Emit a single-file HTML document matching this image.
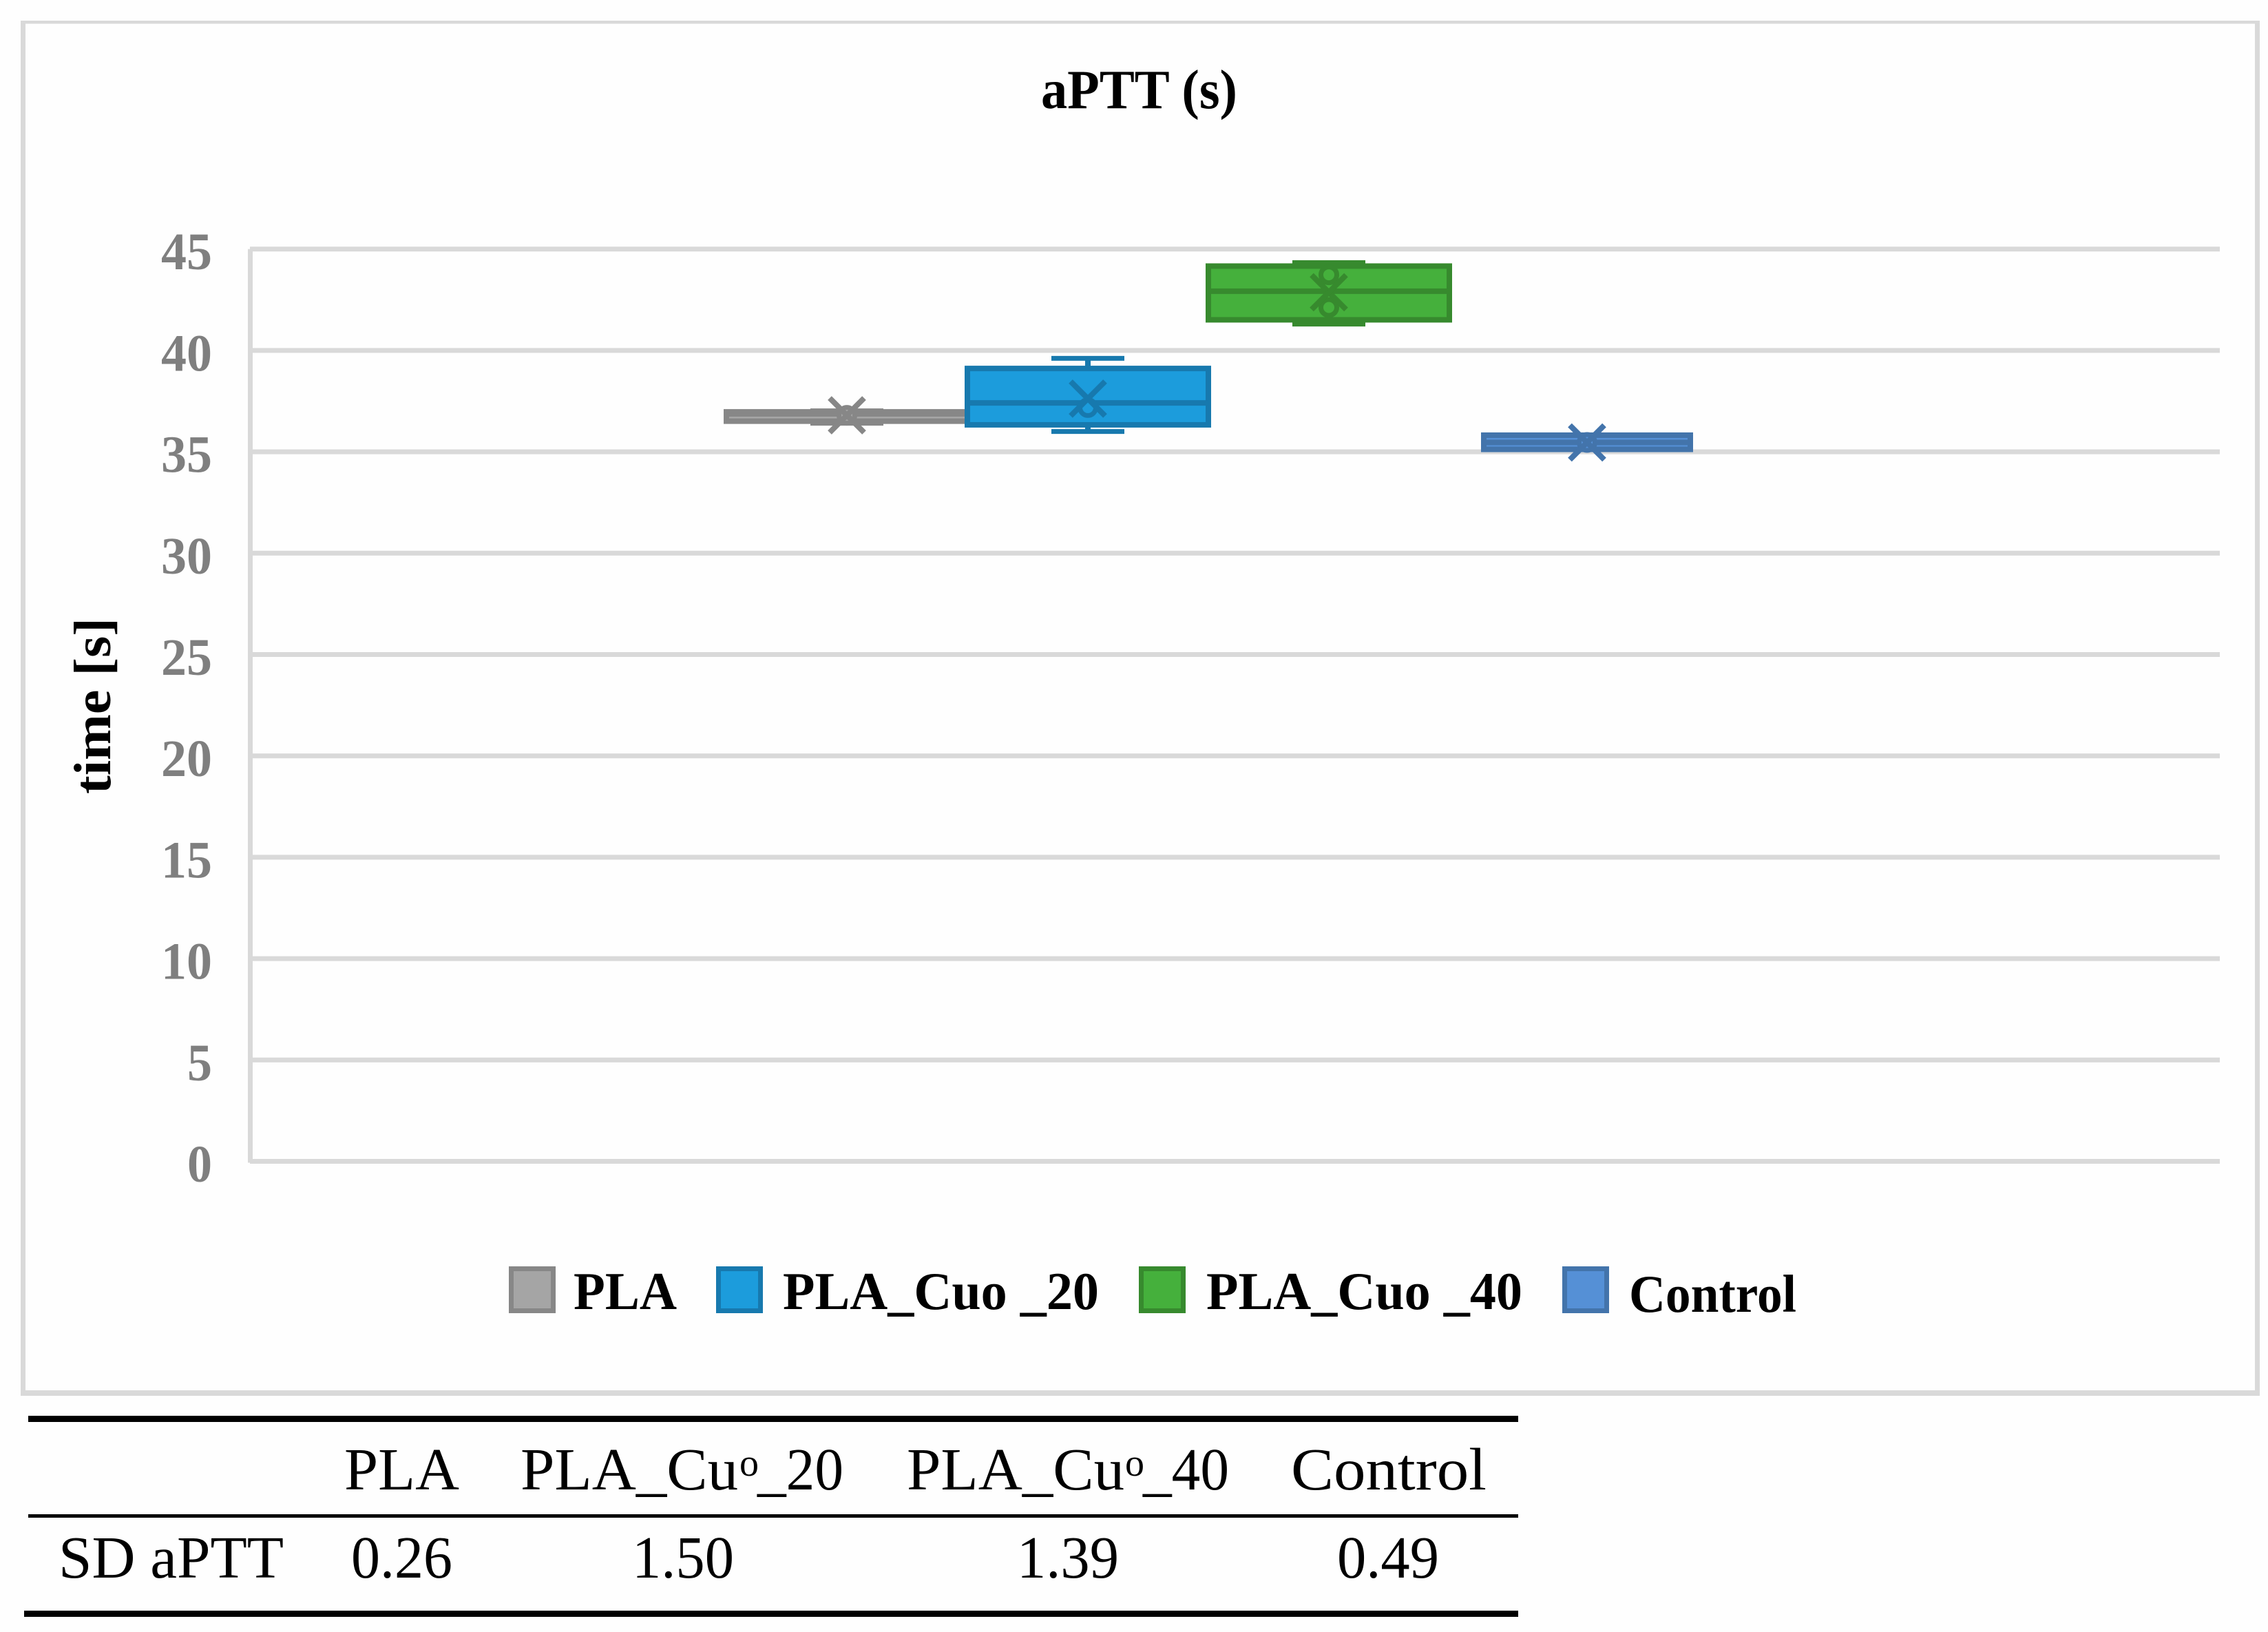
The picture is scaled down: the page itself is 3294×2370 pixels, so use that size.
<!DOCTYPE html>
<html lang="en">
<head>
<meta charset="utf-8">
<title>aPTT (s)</title>
<style>
html,body{margin:0;padding:0;background:#fefefe;}
svg{display:block;}
text{font-family:"Liberation Serif",serif;}
</style>
</head>
<body>
<svg id="chart" xmlns="http://www.w3.org/2000/svg" width="3294" height="2370" viewBox="0 0 3294 2370">
  <rect x="0" y="0" width="3294" height="2370" fill="#fefefe"/>
  <g fill="#d9d9d9">
    <rect x="30" y="30" width="3252" height="4.5"/>
    <rect x="30" y="30" width="7" height="1997"/>
    <rect x="3275" y="30" width="7" height="1997"/>
    <rect x="30" y="2019" width="3252" height="8"/>
  </g>
  <text x="1512" y="157" font-size="80" font-weight="bold" fill="#000" textLength="285" lengthAdjust="spacingAndGlyphs">aPTT (s)</text>
  <text transform="translate(160,1153) rotate(-90)" x="0" y="0" font-size="76" font-weight="bold" fill="#000" textLength="256" lengthAdjust="spacingAndGlyphs">time [s]</text>
  <g id="grid"></g>
  <g id="yticks"></g>
  <g id="boxes"></g>
  <g id="legend"></g>

  <g fill="#000" font-size="87">
    <rect x="41" y="2056" width="2164" height="9"/>
    <rect x="41" y="2199" width="2164" height="5"/>
    <rect x="35" y="2339" width="2170" height="9"/>
    <text x="500" y="2163" textLength="167" lengthAdjust="spacingAndGlyphs">PLA</text>
    <text y="2163"><tspan x="756" textLength="316" lengthAdjust="spacingAndGlyphs">PLA_Cu</tspan><tspan x="1074" y="2143" font-size="56" textLength="28" lengthAdjust="spacingAndGlyphs">o</tspan><tspan x="1100" y="2163" textLength="125" lengthAdjust="spacingAndGlyphs">_20</tspan></text>
    <text y="2163"><tspan x="1317" textLength="316" lengthAdjust="spacingAndGlyphs">PLA_Cu</tspan><tspan x="1634" y="2143" font-size="56" textLength="28" lengthAdjust="spacingAndGlyphs">o</tspan><tspan x="1660" y="2163" textLength="125" lengthAdjust="spacingAndGlyphs">_40</tspan></text>
    <text x="1875" y="2163" textLength="284" lengthAdjust="spacingAndGlyphs">Control</text>
    <text x="85" y="2291" textLength="327" lengthAdjust="spacingAndGlyphs">SD aPTT</text>
    <text x="510" y="2291" textLength="147" lengthAdjust="spacingAndGlyphs">0.26</text>
    <text x="918" y="2291" textLength="148" lengthAdjust="spacingAndGlyphs">1.50</text>
    <text x="1477" y="2291" textLength="148" lengthAdjust="spacingAndGlyphs">1.39</text>
    <text x="1942" y="2291" textLength="148" lengthAdjust="spacingAndGlyphs">0.49</text>
  </g>
</svg>
<script>
// ---- chart data (values in seconds) ----
const categories = ["PLA", "PLA_Cuo _20", "PLA_Cuo _40", "Control"];
const tickLabels = [0, 5, 10, 15, 20, 25, 30, 35, 40, 45];
const whiskerLow = [36.41, 36.00, 41.30, 35.12];
const q1Values = [36.51, 36.33, 41.51, 35.12];
const medianValues = [36.87, 37.41, 42.92, 35.46];
const q3Values = [36.97, 39.11, 44.16, 35.82];
const whiskerHigh = [37.02, 39.61, 44.33, 35.82];
const meanValues = [36.80, 37.62, 42.87, 35.46];
const innerPoints = [[36.80], [37.18], [43.73, 42.12], [35.46]];

// ---- styling (not data) ----
const darkColors = ["#878787", "#1779ae", "#378a2e", "#4374ab"];
const fillColors = ["#a5a5a5", "#1c9cdc", "#45b03c", "#5590d6"];

// ---- axis functions ----
function yScale(v) { return 1686.5 - v * 29.44; }
function xCenter(i) { return 1230 + 350 * i + (i === 3 ? 25 : 0); }
function boxWidth(i) { return i === 3 ? 300 : 350; }

const NS = "http://www.w3.org/2000/svg";
function mk(tag, attrs, parent) {
  const el = document.createElementNS(NS, tag);
  for (const k in attrs) el.setAttribute(k, attrs[k]);
  parent.appendChild(el);
  return el;
}

const gridG = document.getElementById("grid");
const tickG = document.getElementById("yticks");
tickLabels.forEach(function (t) {
  const y = yScale(t);
  const line = mk("rect", {x: 363, y: y - 3.5, width: 2861, height: 7, fill: "#d9d9d9"}, gridG);
  
  
  const s = String(t);
  const w = s.length === 1 ? 36 : 74;
  const lab = mk("text", {x: 308 - w, y: y + 29.5, "font-size": 76, "font-weight": "bold", fill: "#7f7f7f", textLength: w, lengthAdjust: "spacingAndGlyphs"}, tickG);
  lab.textContent = s;
  
  
});
const axis = mk("rect", {x: 360, y: yScale(45), width: 7, height: yScale(0) - yScale(45) + 2, fill: "#d9d9d9"}, gridG);



const boxesG = document.getElementById("boxes");
categories.forEach(function (cat, i) {
  const cx = xCenter(i), bw = boxWidth(i), dark = darkColors[i], light = fillColors[i];
  const slug = cat.toLowerCase().replace(/[^a-z0-9]+/g, '-');
  const g = mk("g", {}, boxesG);
  
  

  const wUp = mk("line", {x1: cx, x2: cx, y1: yScale(whiskerHigh[i]), y2: yScale(q3Values[i]), stroke: dark, "stroke-width": 8}, g);
  
  
  const wDown = mk("line", {x1: cx, x2: cx, y1: yScale(whiskerLow[i]), y2: yScale(q1Values[i]), stroke: dark, "stroke-width": 8}, g);
  
  
  const capUp = mk("line", {x1: cx - 53, x2: cx + 53, y1: yScale(whiskerHigh[i]), y2: yScale(whiskerHigh[i]), stroke: dark, "stroke-width": 7}, g);
  
  
  const capDown = mk("line", {x1: cx - 53, x2: cx + 53, y1: yScale(whiskerLow[i]), y2: yScale(whiskerLow[i]), stroke: dark, "stroke-width": 7}, g);
  
  

  const box = mk("rect", {x: cx - bw / 2, y: yScale(q3Values[i]), width: bw, height: yScale(q1Values[i]) - yScale(q3Values[i]), fill: light, stroke: dark, "stroke-width": 8}, g);
  
  
  const med = mk("line", {x1: cx - bw / 2, x2: cx + bw / 2, y1: yScale(medianValues[i]), y2: yScale(medianValues[i]), stroke: dark, "stroke-width": 8}, g);
  
  

  innerPoints[i].forEach(function (p) {
    const c = mk("circle", {cx: cx, cy: yScale(p), r: 11.5, fill: light, stroke: dark, "stroke-width": 7}, g);
    
    
  });

  const my = yScale(meanValues[i]), d = 25;
  const m1 = mk("line", {x1: cx - d, y1: my - d, x2: cx + d, y2: my + d, stroke: dark, "stroke-width": 8}, g);
  
  
  const m2 = mk("line", {x1: cx - d, y1: my + d, x2: cx + d, y2: my - d, stroke: dark, "stroke-width": 8}, g);
  
  
});

// legend layout
const legendG = document.getElementById("legend");
const legendSwatchX = [739, 1040, 1654, 2269];
const legendTextX = [833, 1137, 1752, 2366];
const legendTextW = [150, 459, 459, 243];
const legendBaseline = [1901, 1901, 1901, 1905];
categories.forEach(function (cat, i) {
  const slug = cat.toLowerCase().replace(/[^a-z0-9]+/g, '-');
  const entry = mk("g", {}, legendG);
  
  
  const sw = mk("rect", {x: legendSwatchX[i] + 3.5, y: 1842.5, width: 61, height: 61, fill: fillColors[i], stroke: darkColors[i], "stroke-width": 7}, entry);
  
  
  const tx = mk("text", {x: legendTextX[i], y: legendBaseline[i], "font-size": 77, "font-weight": "bold", fill: "#000", textLength: legendTextW[i], lengthAdjust: "spacingAndGlyphs"}, entry);
  tx.textContent = cat;
  
  
});
</script>
</body>
</html>
